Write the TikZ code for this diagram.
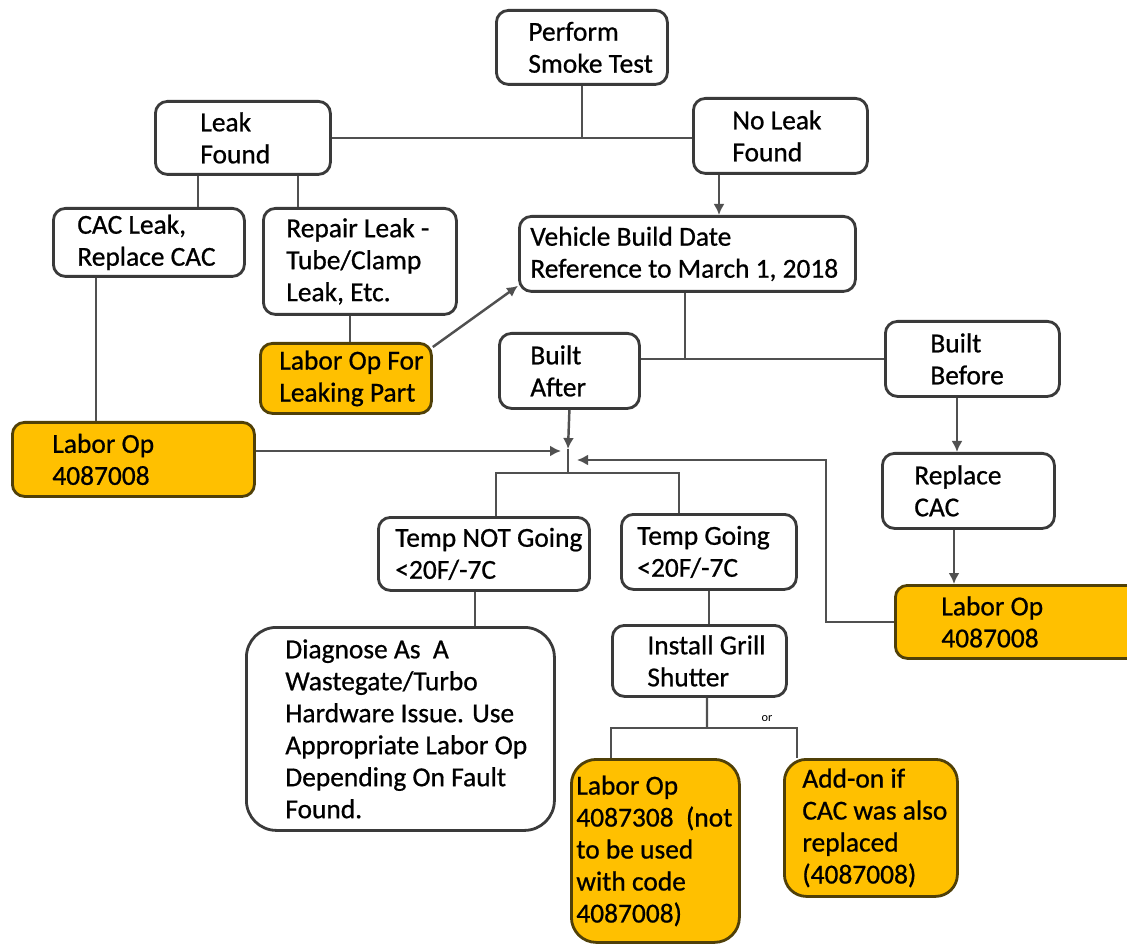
\documentclass[tikz,border=0pt]{standalone}
\usepackage{fontspec}
\setmainfont{Carlito}
\usetikzlibrary{arrows.meta, positioning}
\definecolor{gold}{RGB}{255,192,0}
\definecolor{edgecol}{RGB}{58,58,58}
\definecolor{wirecol}{RGB}{80,80,80}
\definecolor{goldedge}{RGB}{80,64,8}

\begin{document}
\begin{tikzpicture}[x=0.2mm, y=-0.2mm,
		box/.style={draw=edgecol, line width=1.6pt, rounded corners=2.4mm, anchor=north west, inner sep=0pt, fill=white},
		goldbox/.style={box, draw=goldedge, fill=gold},
		txt/.style={inner sep=0pt, align=left, font=\fontsize{15.6pt}{18.2pt}\selectfont\addfontfeature{FakeBold=0.7}},
		wire/.style={draw=wirecol, line width=1.4pt},
		arr/.style={wire, -{Latex[length=2.2mm, width=2.2mm]}}]
	\useasboundingbox (0,0) rectangle (1127,944);
	\clip (0,0) rectangle (1127,944);

	% boxes
	\node[box, minimum width=34.2mm, minimum height=14.8mm] (smoke) at (495,9) {};
	\node[box, minimum width=35mm, minimum height=14.6mm] (leak) at (154,100) {};
	\node[box, minimum width=34.8mm, minimum height=15mm] (noleak) at (692,97) {};
	\node[box, minimum width=38.2mm, minimum height=13.6mm] (cacleak) at (52,207) {};
	\node[box, minimum width=38.6mm, minimum height=21.2mm] (repair) at (262,207) {};
	\node[box, minimum width=67.2mm, minimum height=15mm] (vehicle) at (518,215) {};
	\node[goldbox, minimum width=34.2mm, minimum height=14mm] (laborleak) at (259,342) {};
	\node[box, minimum width=28mm, minimum height=15mm] (after) at (498,332) {};
	\node[box, minimum width=34.8mm, minimum height=15mm] (before) at (884,320) {};
	\node[goldbox, minimum width=48.4mm, minimum height=14.8mm] (laborL) at (11,421) {};
	\node[box, minimum width=34.4mm, minimum height=15mm] (replace) at (881,452) {};
	\node[goldbox, minimum width=52mm, minimum height=14.6mm] (laborR) at (894,584) {};
	\node[box, minimum width=42.2mm, minimum height=14.6mm] (tempnot) at (377,516) {};
	\node[box, minimum width=35mm, minimum height=15mm] (tempgo) at (620,513) {};
	\node[box, rounded corners=6mm, minimum width=61.6mm, minimum height=40.6mm] (diag) at (245,626) {};
	\node[box, minimum width=34.8mm, minimum height=14.2mm] (grill) at (611,624) {};
	\node[goldbox, rounded corners=5mm, minimum width=33.6mm, minimum height=36.6mm] (labor7308) at (570,758) {};
	\node[goldbox, rounded corners=4.4mm, minimum width=34.6mm, minimum height=27.4mm] (addon) at (783,758) {};

	% texts
	\node[txt, right=6.6mm of smoke.west] (smoke-t) {Perform\\Smoke Test};
	\node[txt, right=9.2mm of leak.west] (leak-t) {Leak\\Found};
	\node[txt, right=8mm of noleak.west] (noleak-t) {No Leak\\Found};
	\node[txt, right=5mm of cacleak.west] (cacleak-t) {CAC Leak,\\Replace CAC};
	\node[txt, right=4.8mm of repair.west] (repair-t) {Repair Leak -\\Tube/Clamp\\Leak, Etc.};
	\node[txt, right=2.4mm of vehicle.west] (vehicle-t) {Vehicle Build Date\\Reference to March 1, 2018};
	\node[txt, right=4mm of laborleak.west] (laborleak-t) {Labor Op For\\Leaking Part};
	\node[txt, right=6.4mm of after.west] (after-t) {Built\\After};
	\node[txt, right=9.2mm of before.west] (before-t) {Built\\Before};
	\node[txt, right=8.2mm of laborL.west] (laborL-t) {Labor Op\\4087008};
	\node[txt, right=6.6mm of replace.west] (replace-t) {Replace\\CAC};
	\node[txt, right=9.4mm of laborR.west] (laborR-t) {Labor Op\\4087008};
	\node[txt, right=3.6mm of tempnot.west] (tempnot-t) {Temp NOT Going\\<20F/-7C};
	\node[txt, right=3.4mm of tempgo.west] (tempgo-t) {Temp Going\\<20F/-7C};
	\node[txt, right=8mm of diag.west] (diag-t) {Diagnose As~ A\\Wastegate/Turbo\\Hardware Issue. Use\\Appropriate Labor Op\\Depending On Fault\\Found.};
	\node[txt, right=7.2mm of grill.west] (grill-t) {Install Grill\\Shutter};
	\node[txt, right=1.2mm of labor7308.west] (labor7308-t) {Labor Op\\4087308~~(not\\to be used\\with code\\4087008)};
	\node[txt, right=3.8mm of addon.west] (addon-t) {Add-on if\\CAC was also\\replaced\\(4087008)};
	\node[inner sep=0pt, font=\fontsize{7pt}{8pt}\selectfont] (orlbl) at (767,719) {or};

	% tap points
	\coordinate (leakL) at ([xshift=8.8mm]leak.south west);
	\coordinate (leakR) at ([xshift=28.8mm]leak.south west);
	\coordinate (noleakB) at ([xshift=5.4mm]noleak.south west);
	\coordinate (cacB) at ([xshift=8.8mm]cacleak.south west);
	\coordinate (repairB) at ([xshift=17.6mm]repair.south west);
	\coordinate (vehicleB) at ([xshift=33.4mm]vehicle.south west);
	\coordinate (beforeB) at ([xshift=14.6mm]before.south west);
	\coordinate (replaceB) at ([xshift=14.6mm]replace.south west);
	\coordinate (tempnotT) at ([xshift=23.8mm]tempnot.north west);
	\coordinate (tempgoT) at ([xshift=11.8mm]tempgo.north west);
	\coordinate (tempnotB) at ([xshift=19.6mm]tempnot.south west);
	\coordinate (grillB) at ([xshift=19.2mm]grill.south west);
	\coordinate (laborT) at ([xshift=8.2mm]labor7308.north west);
	\coordinate (addonT) at ([xshift=2.8mm]addon.north west);
	\coordinate (jA) at (568,449);
	\coordinate (jL) at (561,451);
	\coordinate (jR) at (577,460);
	\coordinate (jS) at (568,473);
	\coordinate (jG) at (707,728);

	% connectors
	\draw[wire] (smoke.south) -- (smoke.south |- leak.east);
	\draw[wire] (leak.east) -- (leak.east -| noleak.west);
	\draw[wire] (leakL) -- (leakL |- cacleak.north);
	\draw[wire] (leakR) -- (leakR |- repair.north);
	\draw[arr] (noleakB) -- (noleakB |- vehicle.north);
	\draw[wire] (cacB) -- (cacB |- laborL.north);
	\draw[wire] (repairB) -- (repairB |- laborleak.north);
	\draw[arr] ([yshift=-1mm]laborleak.north east) -- ([yshift=1.4mm]vehicle.south west);
	\draw[wire] (vehicleB) -- (vehicleB |- before.west);
	\draw[wire] (after.east |- before.west) -- (before.west);
	\draw[arr] (beforeB) -- (beforeB |- replace.north);
	\draw[arr] (replaceB) -- (replaceB |- laborR.north);
	\draw[wire] (jA) -- (jS);
	\draw[arr] (after.south) -- (jA);
	\draw[arr] (laborL.east |- jL) -- (jL);
	\draw[arr] (laborR.west) -- ++(-68,0) |- (jR);
	\draw[wire] (tempnotT) |- (jS) -| (tempgoT);
	\draw[wire] (tempnotB) -- (tempnotB |- diag.north);
	\draw[wire] (tempgo.south) -- (tempgo.south |- grill.north);
	\draw[wire] (grillB) -- (jG);
	\draw[wire] (laborT) |- (jG) -| (addonT);
\end{tikzpicture}
\end{document}
